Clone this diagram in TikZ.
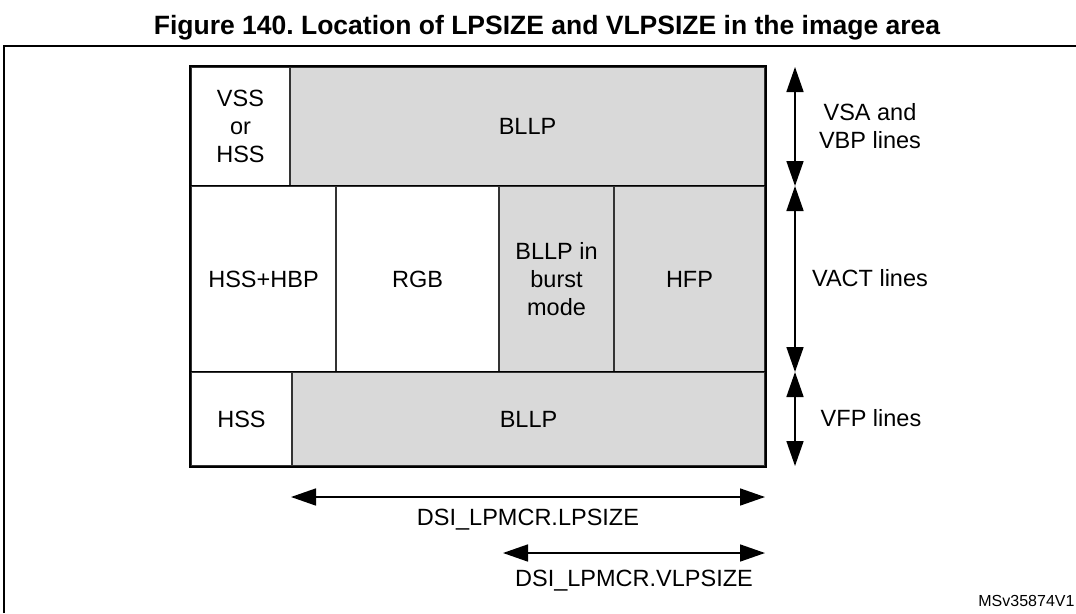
\documentclass[tikz,border=0pt]{standalone}
\usepackage{fontspec}
\setmainfont{Liberation Sans}
\usetikzlibrary{arrows.meta, positioning, calc}
\frenchspacing

\begin{document}
\begin{tikzpicture}[x=1pt, y=-1pt, >={Triangle[length=25pt, width=17pt]},
  font=\fontsize{23.5}{28}\selectfont,
  cell/.style={draw=black!80, line width=1.2pt, inner sep=0pt, align=center},
  plain/.style={cell, fill=white},
  shaded/.style={cell, fill=black!15},
  dim/.style={<->, line width=1.6pt},
  note/.style={align=center, inner sep=0pt}]
\useasboundingbox (0,0) rectangle (1076,613);
\node[font=\fontsize{26.5}{32}\selectfont\bfseries] (title) at (547,28) {Figure 140. Location of LPSIZE and VLPSIZE in the image area};
\draw[line width=2.5pt] (4,613) -- (4,46) -- (1076,46);
\node[plain, minimum width=99pt, minimum height=119pt] (vss) at (240.5,126.5) {VSS\\or\\HSS};
\node[shaded, minimum width=475pt, minimum height=119pt] (bllpa) at (527.5,126.5) {BLLP};
\node[plain, minimum width=145pt, minimum height=186pt] (hbp) at (263.5,279) {HSS+HBP};
\node[plain, minimum width=163pt, minimum height=186pt] (rgb) at (417.5,279) {RGB};
\node[shaded, minimum width=115pt, minimum height=186pt] (burst) at (556.5,279) {BLLP in\\burst\\mode};
\node[shaded, minimum width=151pt, minimum height=186pt] (hfp) at (689.5,279) {HFP};
\node[plain, minimum width=101pt, minimum height=94pt] (hss) at (241.5,419) {HSS};
\node[shaded, minimum width=473pt, minimum height=94pt] (bllpb) at (528.5,419) {BLLP};
\draw[line width=2pt] (vss.north west) rectangle (bllpb.south east);
\draw[line width=1.6pt] (hbp.north west) -- (hfp.north east);
\draw[line width=1.6pt] (hss.north west) -- (bllpb.north east);
\coordinate (v0) at (795,67);
\coordinate (v1) at (795,186);
\coordinate (v2) at (795,372);
\coordinate (v3) at (795,466);
\draw[dim] (v0) -- (v1);
\draw[dim] (v1) -- (v2);
\draw[dim] (v2) -- (v3);
\node[note] (vsa) at (870,126) {VSA and\\VBP lines};
\node[note] (vact) at (870,278) {VACT lines};
\node[note] (vfp) at (871,418) {VFP lines};
\coordinate (h0) at (291,497);
\coordinate (h1) at (765,497);
\coordinate (h2) at (503,553);
\coordinate (h3) at (765,553);
\draw[dim] (h0) -- node[below=11pt, inner sep=0pt] (lpsize) {DSI\_LPMCR.LPSIZE} (h1);
\draw[dim] (h2) -- node[below=16pt, inner sep=0pt] (vlpsize) {DSI\_LPMCR.VLPSIZE} (h3);
\node[anchor=east, font=\fontsize{16}{19}\selectfont] (ref) at (1078,601) {MSv35874V1};
\end{tikzpicture}
\end{document}
